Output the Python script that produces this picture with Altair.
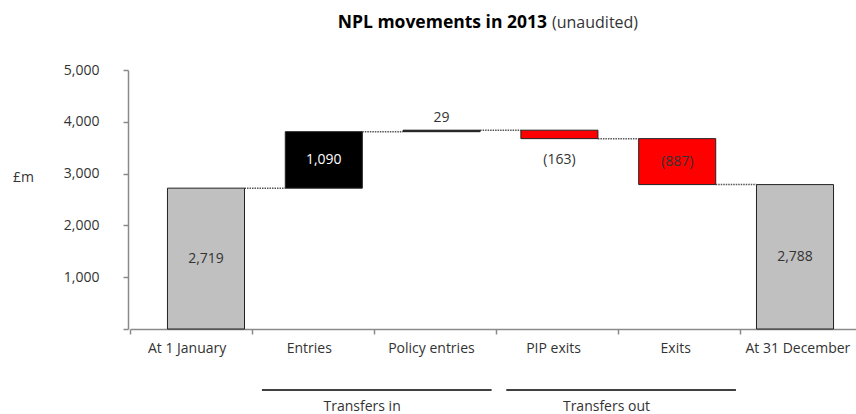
import altair as alt
import pandas as pd

# Waterfall of non-performing loan movements, £m
categories = ["At 1 January", "Entries", "Policy entries", "PIP exits", "Exits", "At 31 December"]
amounts = [2719, 1090, 29, -163, -887, 2788]
totals = ["At 1 January", "At 31 December"]

group_names = ["Transfers in", "Transfers out"]
group_first = ["Entries", "PIP exits"]
group_last = ["Policy entries", "Exits"]

y_ticks = [0, 1000, 2000, 3000, 4000, 5000]

title_main = "NPL movements in 2013"
title_note = "(unaudited)"

# running totals for each step
rows = []
running = 0
for cat, amt in zip(categories, amounts):
    if cat in totals:
        start, end, kind = 0, amt, "total"
    else:
        start, end = running, running + amt
        kind = "increase" if amt > 0 else "decrease"
    running = end
    lo, hi = min(start, end), max(start, end)
    label = f"({abs(amt):,})" if amt < 0 else f"{amt:,}"
    if abs(amt) >= 300:
        place = "inside"
    else:
        place = "above" if amt > 0 else "below"
    rows.append(dict(category=cat, lo=lo, hi=hi, mid=(lo + hi) / 2, end=end,
                     kind=kind, label=label, place=place))
bars_df = pd.DataFrame(rows)

conn_df = pd.DataFrame({
    "from": categories[:-1],
    "to": categories[1:],
    "level": [r["end"] for r in rows[:-1]],
})

groups_df = pd.DataFrame({"group": group_names, "first": group_first, "last": group_last})
cats_df = pd.DataFrame({"category": categories})

TEXT = "#333333"
AXIS = "#8a8a8a"

bar_scale = alt.Scale(domain=categories, range=[0, 745], paddingInner=0.346, paddingOuter=0.335)
y_scale = alt.Scale(domain=[0, 5000], nice=False)
y_axis = alt.Axis(
    values=y_ticks, title="£m", titleAngle=0, titleX=-105, titleY=107,
    titleAlign="center", titleBaseline="middle", titleFontSize=14,
    titleFontWeight="normal", titleColor=TEXT,
    labelExpr="datum.value == 0 ? '' : format(datum.value, ',')",
    labelFontSize=14, labelColor=TEXT, labelPadding=24,
    tickSize=5, tickColor=AXIS, tickWidth=1.5,
    domainColor=AXIS, domainWidth=1.5, grid=False,
)

connectors = alt.Chart(conn_df).mark_rule(color="#555555", strokeWidth=1.5, strokeDash=[1.5, 1]).encode(
    x=alt.X("from:N", bandPosition=1, scale=bar_scale, axis=None),
    x2=alt.X2("to:N", bandPosition=0),
    y=alt.Y("level:Q", scale=y_scale, axis=y_axis),
)

bars = alt.Chart(bars_df).mark_bar(stroke="#222222", strokeWidth=1).encode(
    x=alt.X("category:N", scale=bar_scale, axis=None),
    y=alt.Y("lo:Q", scale=y_scale, axis=y_axis),
    y2="hi:Q",
    color=alt.Color("kind:N", scale=alt.Scale(domain=["total", "increase", "decrease"],
                                              range=["#c0c0c0", "#000000", "#ff0000"]), legend=None),
)

label_base = alt.Chart(bars_df)

inside = label_base.transform_filter(alt.datum.place == "inside").mark_text(
    fontSize=14, baseline="middle").encode(
    x=alt.X("category:N", scale=bar_scale, axis=None),
    y=alt.Y("mid:Q", scale=y_scale, axis=y_axis),
    text="label:N",
    color=alt.condition(alt.datum.kind == "increase", alt.value("white"), alt.value(TEXT)),
)

above = label_base.transform_filter(alt.datum.place == "above").mark_text(
    fontSize=14, baseline="bottom", dy=-5, color=TEXT).encode(
    x=alt.X("category:N", scale=bar_scale, axis=None),
    y=alt.Y("hi:Q", scale=y_scale, axis=y_axis),
    text="label:N",
)

below = label_base.transform_filter(alt.datum.place == "below").mark_text(
    fontSize=14, baseline="top", dy=14, color=TEXT).encode(
    x=alt.X("category:N", scale=bar_scale, axis=None),
    y=alt.Y("lo:Q", scale=y_scale, axis=y_axis),
    text="label:N",
)

bar_layer = alt.layer(connectors, bars, inside, above, below)

# category axis with ticks between the bands, plus the group brackets below
axis_scale = alt.Scale(domain=categories, range=[2, 735], paddingInner=0, paddingOuter=0)
x_axis = alt.Axis(
    title=None, bandPosition=0, labelOffset=-4, labelAngle=0,
    labelFontSize=14, labelColor=TEXT, labelPadding=7, labelOverlap=False,
    tickSize=5, tickColor=AXIS, tickWidth=1.5,
    domainColor=AXIS, domainWidth=1.5, grid=False,
)

axis_carrier = alt.Chart(cats_df).mark_point(opacity=0).encode(
    x=alt.X("category:N", scale=axis_scale, axis=x_axis),
)

group_rules = alt.Chart(groups_df).mark_rule(color="black", strokeWidth=1.5).encode(
    x=alt.X("first:N", bandPosition=0.08, scale=axis_scale, axis=x_axis),
    x2=alt.X2("last:N", bandPosition=0.96),
    y=alt.value(320),
)

group_text = alt.Chart(groups_df).mark_text(fontSize=14, color=TEXT, baseline="middle").encode(
    x=alt.X("first:N", bandPosition=0.9, scale=axis_scale, axis=x_axis),
    y=alt.value(337),
    text="group:N",
)

title_df = pd.DataFrame({"main": [title_main], "note": [title_note]})
title_bold = alt.Chart(title_df).mark_text(
    fontSize=17.5, fontWeight="bold", color="black", align="right", baseline="middle").encode(
    x=alt.value(419), y=alt.value(-47), text="main:N")
title_rest = alt.Chart(title_df).mark_text(
    fontSize=16, color=TEXT, align="left", baseline="middle").encode(
    x=alt.value(424), y=alt.value(-47), text="note:N")

axis_layer = alt.layer(axis_carrier, group_rules, group_text, title_bold, title_rest)

chart = (
    alt.layer(bar_layer, axis_layer)
    .resolve_scale(x="independent")
    .properties(
        width=726,
        height=259,
        padding={"left": 128, "top": 70, "right": 2, "bottom": 85},
        autosize=alt.AutoSizeParams(type="none"),
    )
    .configure(font="Open Sans")
    .configure_view(stroke=None)
)

chart.save("out.html", embed_options={"renderer": "svg", "actions": False})
